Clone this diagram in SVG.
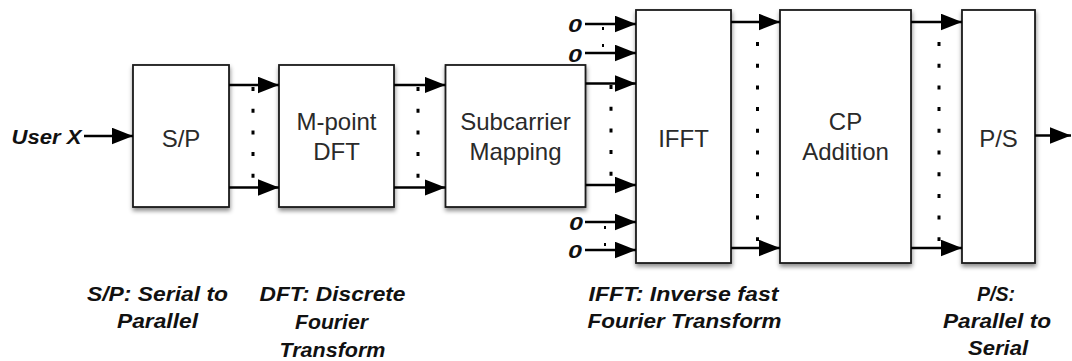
<svg xmlns="http://www.w3.org/2000/svg" width="1072" height="361" viewBox="0 0 1072 361">
  <defs>
    <filter id="shadow" x="-20%" y="-20%" width="140%" height="140%">
      <feDropShadow dx="0.5" dy="3" stdDeviation="2.2" flood-color="#000" flood-opacity="0.45"/>
    </filter>
    <marker id="arrow" markerUnits="userSpaceOnUse" markerWidth="21" markerHeight="17" viewBox="0 0 19 15" refX="19" refY="7.5" orient="auto">
      <path d="M0,0 L19,7.5 L0,15 Z" fill="#000"/>
    </marker>
    <style>
      .box { fill: #fff; stroke: #1a1a1a; stroke-width: 1.8; filter: url(#shadow); }
      .lbl { font-family: "Liberation Sans", Arial, sans-serif; font-size: 24px; fill: #2a2a2a; text-anchor: middle; }
      .note { font-family: "Liberation Sans", Arial, sans-serif; font-size: 20px; font-weight: bold; font-style: italic; fill: #111; text-anchor: middle; }
      .inp { font-family: "Liberation Sans", Arial, sans-serif; font-weight: bold; font-style: italic; fill: #111; }
      .zero { font-size: 18px; }
      .user { font-size: 20.5px; }
      .wire { stroke: #000; stroke-width: 2.6; fill: none; marker-end: url(#arrow); }
      .dots { stroke: #000; stroke-width: 3; stroke-dasharray: 4 17.7; fill: none; }
      .tick { stroke: #000; stroke-width: 2; stroke-dasharray: 3 14; fill: none; }
    </style>
  </defs>

  <!-- processing blocks -->
  <g id="sp">
    <rect class="box" x="133" y="65" width="96" height="142"/>
    <text class="lbl" x="181" y="146.5">S/P</text>
  </g>
  <g id="dft">
    <rect class="box" x="279" y="65" width="115" height="142"/>
    <text class="lbl" x="336.5" y="130">M-point</text>
    <text class="lbl" x="336.5" y="160">DFT</text>
  </g>
  <g id="mapping">
    <rect class="box" x="445.5" y="65" width="140" height="142"/>
    <text class="lbl" x="515.5" y="130">Subcarrier</text>
    <text class="lbl" x="515.5" y="160">Mapping</text>
  </g>
  <g id="ifft">
    <rect class="box" x="636" y="10" width="95" height="253"/>
    <text class="lbl" x="683.5" y="146.5">IFFT</text>
  </g>
  <g id="cp">
    <rect class="box" x="780" y="10" width="131" height="253"/>
    <text class="lbl" x="845.5" y="130">CP</text>
    <text class="lbl" x="845.5" y="160">Addition</text>
  </g>
  <g id="ps">
    <rect class="box" x="962" y="10" width="73" height="253"/>
    <text class="lbl" x="998.5" y="146.5">P/S</text>
  </g>

  <!-- signal paths -->
  <g id="connectors">
    <line class="wire" x1="84" y1="136" x2="133" y2="136"/>

    <line class="wire" x1="229" y1="85" x2="279" y2="85"/>
    <line class="wire" x1="229" y1="187.5" x2="279" y2="187.5"/>
    <line class="dots" x1="253" y1="87" x2="253" y2="184"/>

    <line class="wire" x1="394" y1="85" x2="445.5" y2="85"/>
    <line class="wire" x1="394" y1="187.5" x2="445.5" y2="187.5"/>
    <line class="dots" x1="418" y1="87" x2="418" y2="184"/>

    <line class="wire" x1="585.5" y1="83.5" x2="636" y2="83.5"/>
    <line class="wire" x1="585.5" y1="185" x2="636" y2="185"/>
    <line class="dots" x1="611" y1="85" x2="611" y2="182"/>

    <line class="wire" x1="585" y1="24" x2="636" y2="24"/>
    <line class="wire" x1="585" y1="53" x2="636" y2="53"/>
    <line class="tick" x1="603" y1="27" x2="603" y2="50"/>
    <line class="wire" x1="585" y1="222" x2="636" y2="222"/>
    <line class="wire" x1="585" y1="250" x2="636" y2="250"/>
    <line class="tick" x1="605" y1="226" x2="605" y2="248"/>

    <line class="wire" x1="731" y1="22" x2="780" y2="22"/>
    <line class="wire" x1="731" y1="248" x2="780" y2="248"/>
    <line class="dots" x1="757.5" y1="42" x2="757.5" y2="241"/>

    <line class="wire" x1="911" y1="22" x2="962" y2="22"/>
    <line class="wire" x1="911" y1="248" x2="962" y2="248"/>
    <line class="dots" x1="939" y1="42" x2="939" y2="241"/>

    <line class="wire" x1="1035" y1="135.5" x2="1071" y2="135.5"/>
  </g>

  <!-- input labels -->
  <text class="inp user" x="11.5" y="144" textLength="70" lengthAdjust="spacingAndGlyphs">User X</text>
  <text class="inp zero" x="568" y="31.5" textLength="14" lengthAdjust="spacingAndGlyphs">0</text>
  <text class="inp zero" x="568" y="61.5" textLength="14" lengthAdjust="spacingAndGlyphs">0</text>
  <text class="inp zero" x="569" y="229.5" textLength="14" lengthAdjust="spacingAndGlyphs">0</text>
  <text class="inp zero" x="568" y="258" textLength="14" lengthAdjust="spacingAndGlyphs">0</text>

  <!-- abbreviation notes -->
  <text class="note" x="157.5" y="301" textLength="141" lengthAdjust="spacingAndGlyphs">S/P: Serial to</text>
  <text class="note" x="157.5" y="328" textLength="81" lengthAdjust="spacingAndGlyphs">Parallel</text>

  <text class="note" x="332.5" y="301" textLength="146" lengthAdjust="spacingAndGlyphs">DFT: Discrete</text>
  <text class="note" x="331.5" y="329" textLength="73" lengthAdjust="spacingAndGlyphs">Fourier</text>
  <text class="note" x="332.5" y="357" textLength="106" lengthAdjust="spacingAndGlyphs">Transform</text>

  <text class="note" x="683.5" y="301" textLength="190" lengthAdjust="spacingAndGlyphs">IFFT: Inverse fast</text>
  <text class="note" x="684.5" y="328" textLength="194" lengthAdjust="spacingAndGlyphs">Fourier Transform</text>

  <text class="note" x="996" y="301" textLength="38" lengthAdjust="spacingAndGlyphs">P/S:</text>
  <text class="note" x="997" y="328" textLength="108" lengthAdjust="spacingAndGlyphs">Parallel to</text>
  <text class="note" x="998" y="355" textLength="60" lengthAdjust="spacingAndGlyphs">Serial</text>
</svg>
